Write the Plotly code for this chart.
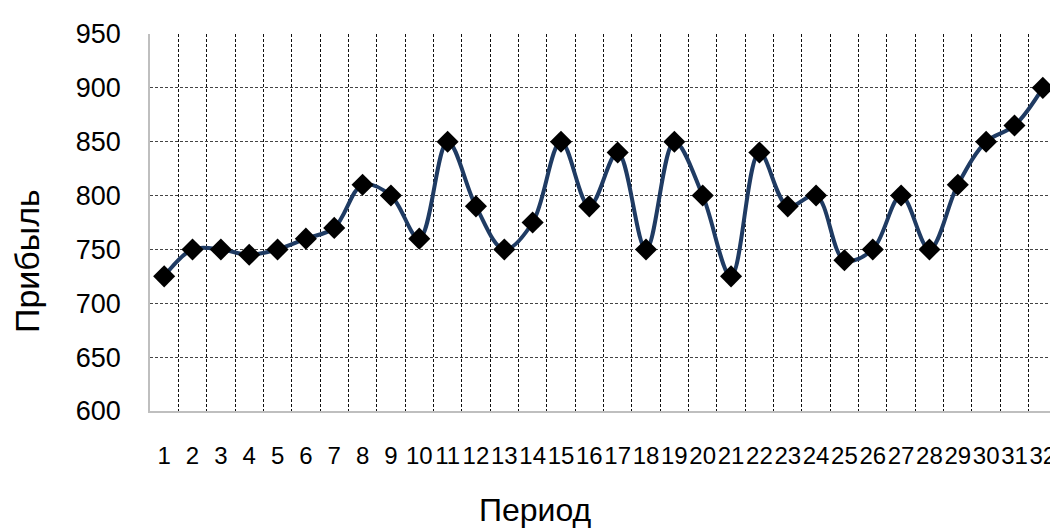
import plotly.graph_objects as go

periods = list(range(1, 33))
tick_labels = [str(p) for p in periods]
profit = [725, 750, 750, 745, 750, 760, 770, 810, 800, 760,
          850, 790, 750, 775, 850, 790, 840, 750, 850, 800,
          725, 840, 790, 800, 740, 750, 800, 750, 810, 850,
          865, 900]
y_ticks = [600, 650, 700, 750, 800, 850, 900, 950]

FONT = "Liberation Sans, Arial, sans-serif"

OFF = 8  # default page body margin
W, H = 1058 - OFF, 530 - OFF
L, R, T, B = 150 - OFF, 1, 34 - OFF, 119
pw, ph = W - L - R, H - T - B
plot_left_px, plot_bottom_px = OFF + L, OFF + H - B

fig = go.Figure()
fig.add_trace(go.Scatter(
    x=periods, y=profit,
    mode="lines+markers",
    line=dict(shape="spline", smoothing=1.0, color="#1F3B63", width=4),
    marker=dict(symbol="diamond", size=17, color="#000000"),
    showlegend=False,
))

fig.update_layout(
    width=W, height=H,
    margin=dict(l=L, r=R, t=T, b=B, pad=0, autoexpand=False),
    paper_bgcolor="white", plot_bgcolor="white",
    font=dict(family=FONT, color="#000000"),
    xaxis=dict(
        range=[0.5, 32.5], automargin=False,
        tickmode="array", tickvals=periods, ticktext=tick_labels,
        tickangle=0,
        showgrid=False, zeroline=False,
        showline=True, linecolor="#BFBFBF", linewidth=1.5,
        ticks="", tickfont=dict(size=24, family=FONT),
        ticklabelstandoff=22,
        minor=dict(tick0=0.5, dtick=1, showgrid=True, griddash="3px,2px",
                   gridcolor="#111111", gridwidth=1, ticks=""),
    ),
    yaxis=dict(
        range=[600, 950], automargin=False,
        tickmode="array", tickvals=y_ticks,
        showgrid=True, griddash="3px,2px", gridcolor="#444444", gridwidth=1,
        zeroline=False,
        showline=True, linecolor="#BFBFBF", linewidth=1.5,
        ticks="", tickfont=dict(size=27, family=FONT),
        ticklabelstandoff=22,
    ),
    annotations=[
        dict(text="Прибыль", xref="paper", yref="paper",
             x=(27 - plot_left_px) / pw, y=(plot_bottom_px - 261) / ph,
             xanchor="center", yanchor="middle", textangle=-90,
             showarrow=False, font=dict(size=34, family=FONT)),
        dict(text="Период", xref="paper", yref="paper",
             x=(535 - plot_left_px) / pw, y=(plot_bottom_px - 510) / ph,
             xanchor="center", yanchor="middle",
             showarrow=False, font=dict(size=32, family=FONT)),
    ],
)

fig.write_html("out.html")
